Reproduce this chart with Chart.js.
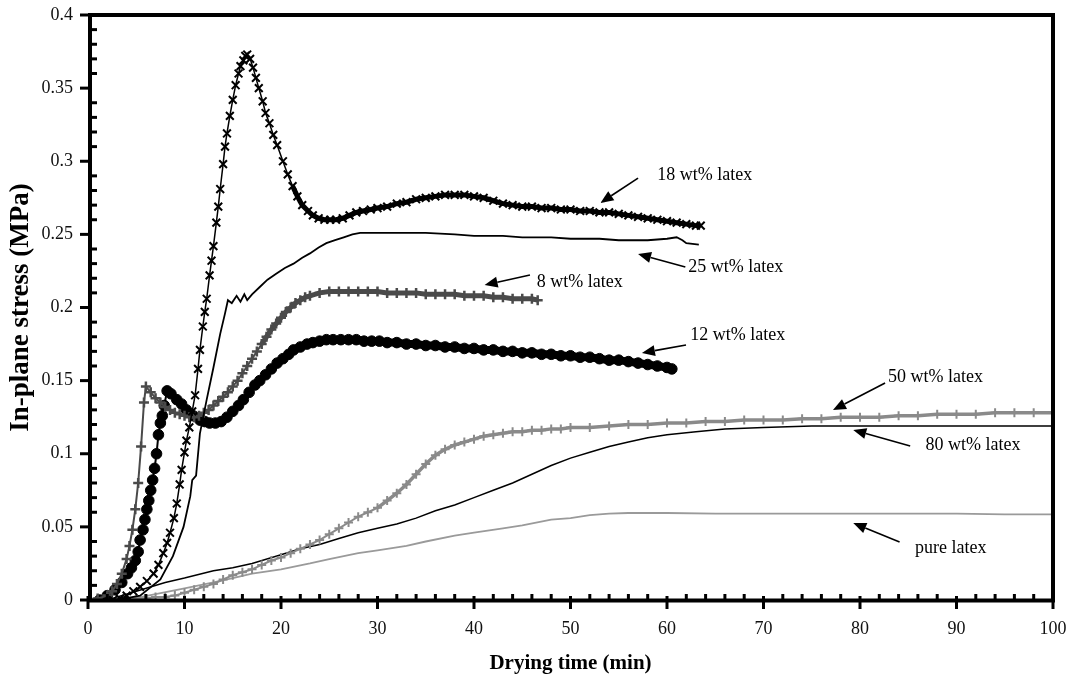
<!DOCTYPE html>
<html>
<head>
<meta charset="utf-8">
<script src="https://cdn.jsdelivr.net/npm/chart.js@4.4.0/dist/chart.umd.min.js"></script>
<style>
html,body{margin:0;padding:0;background:#fff;}
canvas{display:block;}
</style>
</head>
<body>
<canvas id="c" width="1071" height="678"></canvas>
<script>
// ---------- data ----------
const xTickValues = [0, 10, 20, 30, 40, 50, 60, 70, 80, 90, 100];
const yTickValues = [0, 0.05, 0.1, 0.15, 0.2, 0.25, 0.3, 0.35, 0.4];

const time18 = [2.6, 3.3, 4, 4.7, 5.4, 6.1, 6.8, 7.3, 7.8, 8.2,
 8.5, 8.9, 9.2, 9.5, 9.7, 10, 10.2, 10.5, 10.8, 11.1,
 11.4, 11.6, 11.9, 12.1, 12.3, 12.6, 12.8, 13, 13.3, 13.5,
 13.7, 14, 14.2, 14.4, 14.7, 15, 15.3, 15.6, 15.8, 16.1,
 16.3, 16.5, 16.8, 17.1, 17.4, 17.7, 18.1, 18.4, 18.8, 19.2,
 19.6, 20.2, 20.7, 21.2, 21.7, 22.2, 22.8, 23.3, 23.9, 24.5,
 25.1, 25.7, 26.4, 27.1, 27.8, 28.5, 29.3, 30, 31, 32,
 33, 34, 35, 36, 37, 38, 39, 40, 41, 42,
 43, 44, 45, 46, 47, 48, 49, 50, 51, 52,
 53, 54, 55, 56, 57, 58, 59, 60, 61, 62,
 63, 63.5];
const stress18 = [0, 0.001, 0.003, 0.006, 0.009, 0.013, 0.018, 0.024, 0.032, 0.039,
 0.046, 0.056, 0.066, 0.079, 0.089, 0.101, 0.109, 0.118, 0.129, 0.14,
 0.158, 0.171, 0.187, 0.197, 0.206, 0.222, 0.232, 0.242, 0.258, 0.269,
 0.281, 0.298, 0.31, 0.319, 0.331, 0.342, 0.352, 0.36, 0.365, 0.369,
 0.372, 0.373, 0.37, 0.364, 0.357, 0.35, 0.341, 0.333, 0.326, 0.318,
 0.311, 0.3, 0.291, 0.283, 0.276, 0.27, 0.266, 0.263, 0.261, 0.26,
 0.26, 0.26, 0.261, 0.263, 0.265, 0.266, 0.267, 0.268, 0.269, 0.271,
 0.272, 0.274, 0.275, 0.276, 0.277, 0.277, 0.277, 0.276, 0.275, 0.273,
 0.271, 0.27, 0.269, 0.269, 0.268, 0.268, 0.267, 0.267, 0.266, 0.266,
 0.265, 0.265, 0.264, 0.263, 0.262, 0.261, 0.26, 0.259, 0.258, 0.257,
 0.256, 0.256];

const time25 = [3, 5.4, 7.5, 8.8, 9.9, 10.6, 10.8, 11.2, 11.6, 12.3,
 13, 13.7, 14.2, 14.5, 14.9, 15.4, 15.8, 16.2, 16.5, 17,
 17.8, 18.6, 19.5, 20.4, 21.3, 22.2, 23, 23.9, 24.7, 25.6,
 26.5, 27.4, 28.2, 30, 32, 35, 38, 40, 43, 45,
 48, 50, 53, 55, 58, 60, 61, 61.6, 62, 63.3];
const stress25 = [0, 0.003, 0.014, 0.03, 0.05, 0.071, 0.082, 0.085, 0.114, 0.137,
 0.159, 0.182, 0.196, 0.205, 0.203, 0.208, 0.204, 0.209, 0.205, 0.209,
 0.214, 0.219, 0.223, 0.227, 0.23, 0.234, 0.237, 0.241, 0.244, 0.246,
 0.248, 0.25, 0.251, 0.251, 0.251, 0.251, 0.25, 0.249, 0.249, 0.248,
 0.248, 0.247, 0.247, 0.246, 0.246, 0.247, 0.248, 0.246, 0.244, 0.243];

const time8 = [0, 1, 2, 2.5, 3, 3.5, 4, 4.3, 4.6, 4.9,
 5.2, 5.5, 5.8, 6, 6.5, 7, 7.5, 8, 8.5, 9,
 9.5, 10, 10.5, 11, 11.5, 12, 12.5, 13, 13.5, 14,
 14.5, 15, 15.5, 16, 16.5, 17, 17.5, 18, 18.5, 19,
 19.5, 20, 20.5, 21, 21.5, 22, 22.5, 23, 24, 25,
 26, 27, 28, 29, 30, 31, 32, 33, 34, 35,
 36, 37, 38, 39, 40, 41, 42, 43, 44, 45,
 46, 46.6];
const stress8 = [0, 0.001, 0.003, 0.006, 0.011, 0.018, 0.028, 0.037, 0.048, 0.062,
 0.08, 0.105, 0.135, 0.146, 0.142, 0.138, 0.135, 0.132, 0.13, 0.128,
 0.127, 0.126, 0.125, 0.125, 0.126, 0.128, 0.13, 0.133, 0.136, 0.139,
 0.142, 0.146, 0.15, 0.155, 0.16, 0.165, 0.17, 0.175, 0.18, 0.185,
 0.189, 0.193, 0.197, 0.2, 0.203, 0.205, 0.207, 0.208, 0.21, 0.211,
 0.211, 0.211, 0.211, 0.211, 0.211, 0.21, 0.21, 0.21, 0.21, 0.209,
 0.209, 0.209, 0.209, 0.208, 0.208, 0.208, 0.207, 0.207, 0.206, 0.206,
 0.206, 0.205];

const time12 = [1.2, 2, 2.8, 3.5, 4.1, 4.5, 4.9, 5.2, 5.4, 5.7,
 5.9, 6.1, 6.3, 6.5, 6.7, 6.9, 7.1, 7.3, 7.5, 7.7,
 7.9, 8.2, 8.6, 9.2, 9.7, 10.2, 10.9, 11.6, 12.1, 12.6,
 13.2, 13.8, 14.4, 15, 15.6, 16.1, 16.7, 17.3, 17.8, 18.4,
 19, 19.6, 20.2, 20.8, 21.3, 22, 22.7, 23.3, 24, 24.7,
 25.4, 26.2, 27, 27.8, 28.6, 29.4, 30.2, 31, 32, 33,
 34, 35, 36, 37, 38, 39, 40, 41, 42, 43,
 44, 45, 46, 47, 48, 49, 50, 51, 52, 53,
 54, 55, 56, 57, 58, 59, 60, 60.5];
const stress12 = [0, 0.003, 0.007, 0.012, 0.018, 0.022, 0.027, 0.033, 0.041, 0.048,
 0.055, 0.062, 0.068, 0.075, 0.082, 0.09, 0.1, 0.113, 0.121, 0.126,
 0.133, 0.143, 0.141, 0.137, 0.134, 0.13, 0.126, 0.123, 0.122, 0.121,
 0.121, 0.122, 0.125, 0.129, 0.133, 0.137, 0.142, 0.147, 0.15, 0.154,
 0.158, 0.162, 0.165, 0.168, 0.171, 0.173, 0.175, 0.176, 0.177, 0.178,
 0.178, 0.178, 0.178, 0.178, 0.177, 0.177, 0.177, 0.176, 0.176, 0.175,
 0.175, 0.174, 0.174, 0.173, 0.173, 0.172, 0.172, 0.171, 0.171, 0.17,
 0.17, 0.169, 0.169, 0.168, 0.168, 0.167, 0.167, 0.166, 0.166, 0.165,
 0.164, 0.164, 0.163, 0.162, 0.161, 0.16, 0.159, 0.158];

const time50 = [3, 4, 5, 6, 7, 8, 9, 10, 11, 12,
 13, 14, 15, 16, 17, 18, 19, 20, 21, 22,
 23, 24, 25, 26, 27, 28, 29, 30, 31, 32,
 33, 34, 35, 36, 37, 38, 39, 40, 41, 42,
 43, 44, 45, 46, 47, 48, 49, 50, 52, 54,
 56, 58, 60, 62, 64, 66, 68, 70, 72, 74,
 76, 78, 80, 82, 84, 86, 88, 90, 92, 94,
 96, 98, 100];
const stress50 = [0, 0.001, 0.001, 0.001, 0.002, 0.002, 0.003, 0.005, 0.007, 0.009,
 0.011, 0.014, 0.017, 0.019, 0.021, 0.024, 0.027, 0.029, 0.032, 0.035,
 0.038, 0.041, 0.045, 0.049, 0.053, 0.057, 0.06, 0.063, 0.068, 0.073,
 0.079, 0.086, 0.093, 0.099, 0.103, 0.106, 0.108, 0.11, 0.112, 0.113,
 0.114, 0.115, 0.115, 0.116, 0.116, 0.117, 0.117, 0.118, 0.118, 0.119,
 0.12, 0.12, 0.121, 0.121, 0.122, 0.122, 0.123, 0.123, 0.123, 0.124,
 0.124, 0.125, 0.125, 0.125, 0.126, 0.126, 0.127, 0.127, 0.127, 0.128,
 0.128, 0.128, 0.128];

const time80 = [2, 5, 8, 10, 13, 15, 17, 20, 22, 24,
 26, 28, 30, 32, 34, 36, 38, 40, 42, 44,
 46, 48, 50, 52, 54, 56, 58, 60, 63, 66,
 70, 75, 80, 85, 90, 95, 100];
const stress80 = [0, 0.006, 0.012, 0.015, 0.02, 0.022, 0.025, 0.031, 0.035, 0.038,
 0.042, 0.046, 0.049, 0.052, 0.056, 0.061, 0.065, 0.07, 0.075, 0.08,
 0.086, 0.092, 0.097, 0.101, 0.105, 0.108, 0.111, 0.113, 0.115, 0.117,
 0.118, 0.119, 0.119, 0.119, 0.119, 0.119, 0.119];

const timePure = [4, 7, 10, 13, 15, 17, 20, 23, 25, 28,
 30, 33, 35, 38, 40, 43, 45, 48, 50, 52,
 54, 56, 60, 65, 70, 75, 80, 85, 90, 95,
 100];
const stressPure = [0, 0.004, 0.008, 0.012, 0.015, 0.018, 0.021, 0.025, 0.028, 0.032,
 0.034, 0.037, 0.04, 0.044, 0.046, 0.049, 0.051, 0.055, 0.056, 0.058,
 0.059, 0.0595, 0.0595, 0.059, 0.059, 0.059, 0.059, 0.059, 0.059, 0.0585,
 0.0585];

// annotation labels with arrows (in data units)
const annotationLabels = ['18 wt% latex', '25 wt% latex', '8 wt% latex', '12 wt% latex', '50 wt% latex', '80 wt% latex', 'pure latex'];
const annotationText = [[59.0, 0.2906], [62.2, 0.2277], [46.5, 0.2174], [62.4, 0.1812], [82.9, 0.1525], [86.8, 0.1060], [85.7, 0.0356]];
const annotationTail = [[57.0, 0.2885], [61.9, 0.2277], [45.8, 0.2222], [61.97, 0.1744], [82.6, 0.1484], [85.2, 0.1053], [84.1, 0.0397]];
const annotationHead = [[53.1, 0.2715], [57.0, 0.2366], [41.1, 0.2154], [57.4, 0.1689], [77.2, 0.1299], [79.3, 0.1162], [79.3, 0.0526]];

// ---------- chart ----------
const pts = (t, v) => t.map((x, i) => ({x: x, y: v[i]}));
const SERIF = "'Liberation Serif', 'DejaVu Serif', serif";
// thicker trace where the dense markers merge into a band
const bandWidth = (from, thin, thick) => ({ borderWidth: c => (c.p0.parsed.x >= from ? thick : thin) });

const framePlugin = {
  id: 'frame',
  afterDraw(chart) {
    const {ctx, chartArea: a, scales: {x, y}} = chart;
    ctx.save();
    ctx.strokeStyle = '#000';
    ctx.lineCap = 'butt';
    ctx.lineWidth = 3;
    for (let i = 0; i <= 50; i++) {
      const px = x.getPixelForValue(i * 2);
      ctx.beginPath();
      if (i % 5 === 0) { ctx.moveTo(px, a.bottom - 4); ctx.lineTo(px, a.bottom + 9); }
      else { ctx.moveTo(px, a.bottom - 6); ctx.lineTo(px, a.bottom); }
      ctx.stroke();
    }
    for (let i = 0; i <= 40; i++) {
      const py = y.getPixelForValue(i / 100);
      ctx.beginPath();
      if (i % 5 === 0) { ctx.moveTo(a.left - 8, py); ctx.lineTo(a.left + 2, py); }
      else { ctx.moveTo(a.left + 2, py); ctx.lineTo(a.left + 9, py); }
      ctx.stroke();
    }
    ctx.lineWidth = 4;
    ctx.beginPath();
    ctx.moveTo(a.left + 2, a.top - 2); ctx.lineTo(a.left + 2, a.bottom + 2);
    ctx.moveTo(a.left, a.bottom + 0.5); ctx.lineTo(a.right + 2, a.bottom + 0.5);
    ctx.moveTo(a.left, a.top); ctx.lineTo(a.right + 2, a.top);
    ctx.moveTo(a.right, a.top - 2); ctx.lineTo(a.right, a.bottom + 2);
    ctx.stroke();
    ctx.restore();
  }
};

const annotationPlugin = {
  id: 'notes',
  afterDraw(chart) {
    const {ctx, scales: {x, y}} = chart;
    ctx.save();
    ctx.fillStyle = '#000';
    ctx.strokeStyle = '#000';
    ctx.font = "18px " + SERIF;
    ctx.textBaseline = 'middle';
    ctx.textAlign = 'left';
    annotationLabels.forEach((lab, i) => {
      ctx.fillText(lab, x.getPixelForValue(annotationText[i][0]), y.getPixelForValue(annotationText[i][1]));
      const x1 = x.getPixelForValue(annotationTail[i][0]), y1 = y.getPixelForValue(annotationTail[i][1]);
      const x2 = x.getPixelForValue(annotationHead[i][0]), y2 = y.getPixelForValue(annotationHead[i][1]);
      const ang = Math.atan2(y2 - y1, x2 - x1);
      const L = 13, W = 5.5;
      const bx = x2 - L * Math.cos(ang), by = y2 - L * Math.sin(ang);
      ctx.lineWidth = 1.6;
      ctx.beginPath(); ctx.moveTo(x1, y1); ctx.lineTo(bx, by); ctx.stroke();
      ctx.beginPath();
      ctx.moveTo(x2, y2);
      ctx.lineTo(bx + W * Math.sin(ang), by - W * Math.cos(ang));
      ctx.lineTo(bx - W * Math.sin(ang), by + W * Math.cos(ang));
      ctx.closePath(); ctx.fill();
    });
    ctx.restore();
  }
};

new Chart(document.getElementById('c'), {
  type: 'scatter',
  data: {
    datasets: [
      { label: '18 wt% latex', data: pts(time18, stress18), showLine: true, borderColor: '#000', borderWidth: 1.5,
        segment: bandWidth(21, 1.5, 5),
        pointStyle: 'crossRot', pointRadius: 5.5, pointBorderWidth: 2, pointBorderColor: '#000', pointBackgroundColor: '#000' },
      { label: '25 wt% latex', data: pts(time25, stress25), showLine: true, borderColor: '#000', borderWidth: 1.8, pointRadius: 0 },
      { label: '8 wt% latex', data: pts(time8, stress8), showLine: true, borderColor: '#4a4a4a', borderWidth: 2,
        segment: bandWidth(18, 2, 5),
        pointStyle: 'cross', pointRadius: 5, pointBorderWidth: 2.5, pointBorderColor: '#4a4a4a', pointBackgroundColor: '#4a4a4a' },
      { label: '12 wt% latex', data: pts(time12, stress12), showLine: true, borderColor: '#000', borderWidth: 2,
        segment: bandWidth(20, 2, 8),
        pointStyle: 'circle', pointRadius: 5.3, pointBorderWidth: 1, pointBorderColor: '#000', pointBackgroundColor: '#000' },
      { label: '50 wt% latex', data: pts(time50, stress50), showLine: true, borderColor: '#8a8a8a', borderWidth: 2,
        segment: bandWidth(30, 2, 3.5),
        pointStyle: 'cross', pointRadius: 4.5, pointBorderWidth: 2, pointBorderColor: '#8a8a8a', pointBackgroundColor: '#8a8a8a' },
      { label: '80 wt% latex', data: pts(time80, stress80), showLine: true, borderColor: '#000', borderWidth: 1.5, pointRadius: 0 },
      { label: 'pure latex', data: pts(timePure, stressPure), showLine: true, borderColor: '#9a9a9a', borderWidth: 1.8, pointRadius: 0 }
    ]
  },
  options: {
    responsive: false,
    animation: false,
    devicePixelRatio: 1,
    layout: { padding: { left: 0, top: 15, right: 18, bottom: 0 } },
    plugins: { legend: { display: false }, tooltip: { enabled: false } },
    elements: { line: { tension: 0 } },
    scales: {
      x: {
        type: 'linear', min: 0, max: 100,
        border: { display: false },
        grid: { display: false, drawTicks: false },
        afterBuildTicks: s => { s.ticks = xTickValues.map(v => ({ value: v })); },
        afterFit: s => { s.height = 78; s.paddingLeft = 0; s.paddingRight = 0; },
        ticks: { padding: 18, color: '#111', font: { family: SERIF, size: 18 }, maxRotation: 0, autoSkip: false },
        title: { display: true, text: 'Drying time (min)', color: '#000', font: { family: SERIF, size: 21, weight: 'bold' }, padding: { top: 0, bottom: 2 } }
      },
      y: {
        type: 'linear', min: 0, max: 0.4,
        border: { display: false },
        grid: { display: false, drawTicks: false },
        afterBuildTicks: s => { s.ticks = yTickValues.map(v => ({ value: v })); },
        afterFit: s => { s.width = 88; s.paddingTop = 0; s.paddingBottom = 0; },
        ticks: { padding: 15, color: '#111', font: { family: SERIF, size: 18 }, autoSkip: false,
                 callback: v => String(Math.round(v * 100) / 100) },
        title: { display: true, text: 'In-plane stress (MPa)', color: '#000', font: { family: SERIF, size: 27, weight: 'bold' }, padding: { top: 5, bottom: 0 } }
      }
    }
  },
  plugins: [framePlugin, annotationPlugin]
});
</script>
</body>
</html>
